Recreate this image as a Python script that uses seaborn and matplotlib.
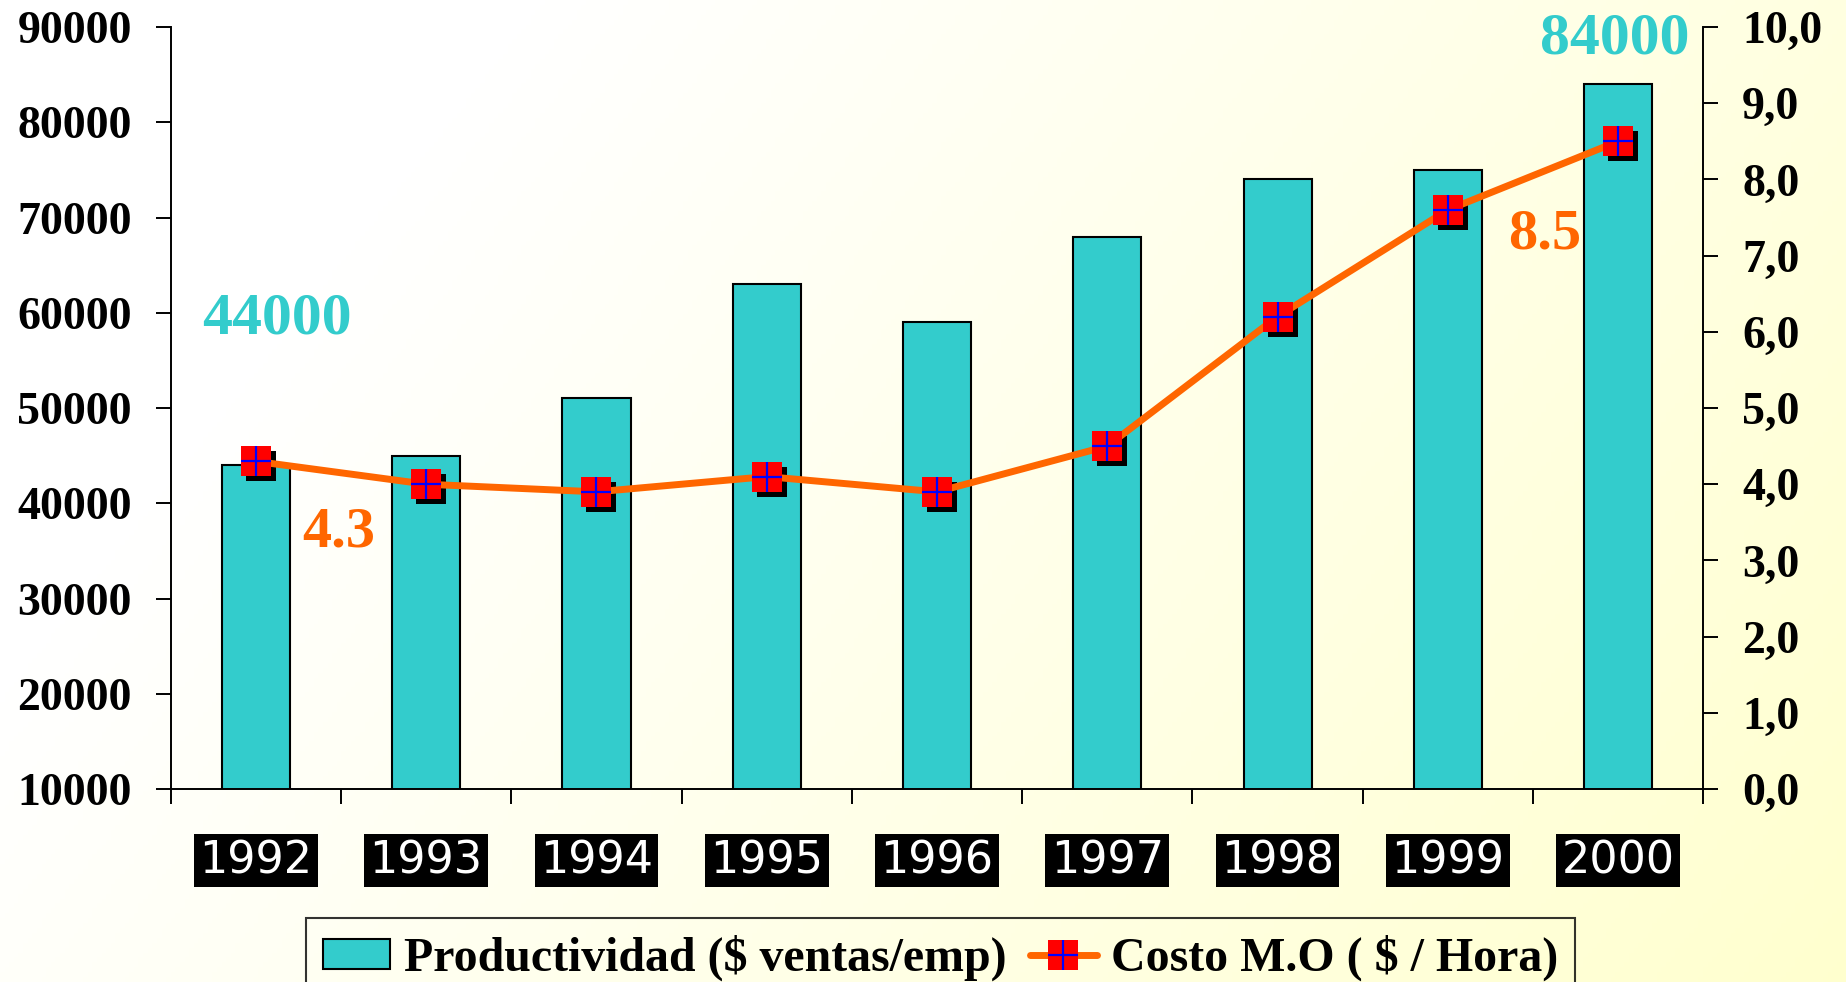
import numpy as np
import pandas as pd
import matplotlib
matplotlib.use('Agg')
import matplotlib.pyplot as plt
import matplotlib.transforms as mtransforms
from matplotlib.lines import Line2D
from matplotlib.patches import Patch
from matplotlib.legend_handler import HandlerTuple
import seaborn as sns

# ---- data ----
years = ['1992', '1993', '1994', '1995', '1996', '1997', '1998', '1999', '2000']
productividad = [44000, 45000, 51000, 63000, 59000, 68000, 74000, 75000, 84000]
costo_mo = [4.3, 4.0, 3.9, 4.1, 3.9, 4.5, 6.2, 7.6, 8.5]
left_ticks = [10000, 20000, 30000, 40000, 50000, 60000, 70000, 80000, 90000]
right_ticks = [0, 1, 2, 3, 4, 5, 6, 7, 8, 9, 10]
right_tick_labels = ['0,0', '1,0', '2,0', '3,0', '4,0', '5,0', '6,0', '7,0', '8,0', '9,0', '10,0']
series_names = ['Productividad ($ ventas/emp)', 'Costo M.O ( $ / Hora)']

CYAN = '#33CCCC'
ORANGE = '#FF6600'

sns.set_style('ticks')
plt.rcParams['font.family'] = ['Liberation Serif', 'DejaVu Serif']
plt.rcParams['font.weight'] = 'bold'
plt.rcParams['axes.edgecolor'] = 'black'
plt.rcParams['text.color'] = 'black'
plt.rcParams['xtick.color'] = 'black'
plt.rcParams['ytick.color'] = 'black'

fig = plt.figure(figsize=(18.46, 9.82), dpi=100)
fig.patch.set_facecolor('white')

# background gradient
bg = fig.add_axes([0, 0, 1, 1], zorder=-10)
gx, gy = np.meshgrid(np.linspace(0, 1, 400), np.linspace(0, 1, 200))
t = np.clip(0.85 * gx + 0.35 * gy - 0.25, 0, 1)
c0 = np.array([1.0, 1.0, 1.0])
c1 = np.array([1.0, 1.0, 0.80])
img = c0 + (c1 - c0) * t[..., None]
bg.imshow(img, extent=[0, 1, 0, 1], aspect='auto', origin='upper')
bg.axis('off')

ax = fig.add_axes([0.0925, 0.1965, 0.8302, 0.776])
ax.set_facecolor('none')

df = pd.DataFrame({'year': years, 'prod': productividad, 'costo': costo_mo})
df['pos'] = np.arange(len(years))

sns.barplot(data=df, x='year', y='prod', color=CYAN, saturation=1, width=0.4,
            edgecolor='black', linewidth=1.5, ax=ax, zorder=2)

ax2 = ax.twinx()
shadow_tr = mtransforms.offset_copy(ax2.transData, fig=fig, x=5, y=-5, units='dots')
ax2.plot(df['pos'], df['costo'], ls='none', marker='s', ms=22, mfc='black', mew=0,
         transform=shadow_tr, zorder=2)
sns.lineplot(data=df, x='pos', y='costo', ax=ax2, color=ORANGE, linewidth=5,
             marker='s', markersize=22, markerfacecolor='red', markeredgewidth=0,
             zorder=3, legend=False)
ax2.plot(df['pos'], df['costo'], ls='none', marker='+', ms=21, mew=1.6, color='blue', zorder=4)

ax.set_xlim(-0.5, len(years) - 0.5)
ax.set_ylim(left_ticks[0], left_ticks[-1])
ax2.set_ylim(right_ticks[0], right_ticks[-1])
ax2.set_xlim(-0.5, len(years) - 0.5)

for a in (ax, ax2):
    a.set_xlabel('')
    a.set_ylabel('')

# spines
for s in ['top', 'right']:
    ax.spines[s].set_visible(False)
for s in ['top', 'left', 'bottom']:
    ax2.spines[s].set_visible(False)
for s in ['left', 'bottom']:
    ax.spines[s].set_linewidth(1.4)
ax2.spines['right'].set_linewidth(1.4)

# y ticks
ax.set_yticks(left_ticks)
ax.set_yticklabels([str(v) for v in left_ticks])
ax.tick_params(axis='y', direction='out', length=11, width=1.4, pad=17, labelsize=33)
ax2.set_yticks(right_ticks)
ax2.set_yticklabels(right_tick_labels)
ax2.tick_params(axis='y', direction='out', length=11, width=1.4, pad=17, labelsize=33)

# x ticks
ax.set_xticks(df['pos'])
ax.set_xticklabels(years)
ax.set_xticks(np.arange(-0.5, len(years), 1.0), minor=True)
ax.tick_params(axis='x', which='major', length=0, pad=36)
ax.tick_params(axis='x', which='minor', length=11, width=1.4, direction='out')
for lbl in ax.get_xticklabels():
    lbl.set_fontfamily('DejaVu Sans')
    lbl.set_fontweight('normal')
    lbl.set_fontsize(32)
    lbl.set_color('white')
    lbl.set_bbox(dict(boxstyle='square,pad=0.12', fc='black', ec='none'))

# callouts
ax.text(0.124, 59300, str(productividad[0]), color=CYAN, fontsize=43, fontweight='bold',
        ha='center', va='center')
ax.text(7.98, 88740, str(productividad[-1]), color=CYAN, fontsize=43, fontweight='bold',
        ha='center', va='center')
ax2.text(0.488, 3.37, f'{costo_mo[0]}', color=ORANGE, fontsize=42, fontweight='bold',
         ha='center', va='center')
ax2.text(7.57, 7.28, f'{costo_mo[-1]}', color=ORANGE, fontsize=42, fontweight='bold',
         ha='center', va='center')

# legend
h_bar = Patch(facecolor=CYAN, edgecolor='black', linewidth=1.5)
h_line = (Line2D([], [], color=ORANGE, lw=5, marker='s', ms=22, mfc='red', mew=0),
          Line2D([], [], ls='none', marker='+', ms=21, mew=1.6, color='blue'))
leg = fig.legend([h_bar, h_line], series_names, loc='upper left',
                 bbox_to_anchor=(306 / 1846, 1 - 918 / 982), ncol=2, frameon=True,
                 fancybox=False, borderaxespad=0, handlelength=1.4, handleheight=0.6,
                 handletextpad=0.3, columnspacing=0.48, borderpad=0.35,
                 prop={'family': 'Liberation Serif', 'weight': 'bold', 'size': 34.5},
                 handler_map={tuple: HandlerTuple(ndivide=1)})
frame = leg.get_frame()
frame.set_facecolor('none')
frame.set_edgecolor('black')
frame.set_linewidth(1.5)

fig.savefig('out.png', dpi=100)
